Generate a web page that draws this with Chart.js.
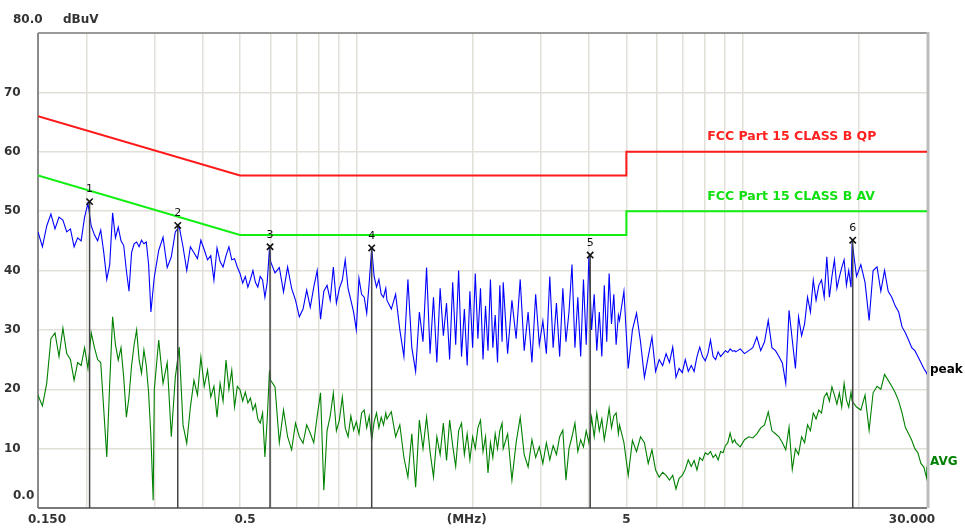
<!DOCTYPE html>
<html><head><meta charset="utf-8">
<script src="https://cdn.jsdelivr.net/npm/chart.js@4.4.1/dist/chart.umd.min.js"></script>
<style>html,body{margin:0;padding:0;background:#fff;}canvas{display:block;}</style>
</head><body>
<canvas id="c" width="965" height="529"></canvas>
<script>
// ---- data (MHz / dBuV) ----
const freqMHz = [
0.150,0.154,0.158,0.162,0.166,0.170,0.174,0.178,0.182,0.186,0.190,0.194,0.198,0.202,0.206,0.210,0.214,0.218,0.222,0.226,0.230,0.234,0.238,0.242,0.246,0.250,0.254,0.258,0.262,0.266,0.270,0.274,0.278,0.282,0.286,0.290,0.294,0.298,
0.300,0.308,0.316,0.324,0.332,0.340,0.348,0.356,0.364,0.372,0.380,0.388,0.396,0.404,0.412,0.420,0.428,0.436,0.444,0.452,0.460,0.468,0.476,0.484,0.492,0.500,0.508,0.516,0.524,0.532,0.540,0.548,0.556,0.564,0.572,0.580,0.588,0.596,
0.600,0.616,0.632,0.648,0.664,0.680,0.696,0.712,0.728,0.744,0.760,0.776,0.792,0.808,0.824,0.840,0.856,0.872,0.888,0.904,0.920,0.936,0.952,0.968,0.984,1.000,1.016,1.032,1.048,1.064,1.080,1.096,1.112,1.128,1.144,1.160,1.176,1.192,
1.200,1.232,1.264,1.296,1.328,1.360,1.392,1.424,1.456,1.488,1.520,1.552,1.584,1.616,1.648,1.680,1.712,1.744,1.776,1.808,1.840,1.872,1.904,1.936,1.968,2.000,2.032,2.064,2.096,2.128,2.160,2.192,2.224,2.256,2.288,2.320,2.352,2.384,
2.400,2.464,2.528,2.592,2.656,2.720,2.784,2.848,2.912,2.976,3.040,3.104,3.168,3.232,3.296,3.360,3.424,3.488,3.552,3.616,3.680,3.744,3.808,3.872,3.936,4.000,4.064,4.128,4.192,4.256,4.320,4.384,4.448,4.512,4.576,4.640,4.704,4.768,
4.800,4.928,5.056,5.184,5.312,5.440,5.568,5.696,5.824,5.952,6.080,6.208,6.336,6.464,6.592,6.720,6.848,6.976,7.104,7.232,7.360,7.488,7.616,7.744,7.872,8.000,8.128,8.256,8.384,8.512,8.640,8.768,8.896,9.024,9.152,9.280,9.408,9.536,
9.600,9.856,10.112,10.368,10.624,10.880,11.136,11.392,11.648,11.904,12.160,12.416,12.672,12.928,13.184,13.440,13.696,13.952,14.208,14.464,14.720,14.976,15.232,15.488,15.744,16.000,16.256,16.512,16.768,17.024,17.280,17.536,17.792,18.048,18.304,18.560,18.816,19.072,
19.200,19.712,20.224,20.736,21.248,21.760,22.272,22.784,23.296,23.808,24.320,24.832,25.344,25.856,26.368,26.880,27.392,27.904,28.416,28.928,29.440,29.952,30.000];

const peakDbuv = [
46.5,44.0,47.5,49.5,47.0,49.0,48.5,46.5,47.0,44.0,45.5,45.0,49.0,51.3,47.5,46.0,45.0,46.8,43.0,38.5,41.0,49.7,45.5,47.3,45.0,44.2,40.0,36.5,43.0,44.5,44.8,44.0,45.1,44.5,44.8,41.0,33.0,37.0,
38.9,43.4,45.6,40.5,42.3,46.5,47.4,44.0,40.0,44.0,43.0,42.0,45.1,43.5,41.8,42.5,38.4,43.8,41.5,40.6,42.5,44.0,41.8,42.0,40.6,39.5,37.9,39.0,37.2,38.5,40.0,38.0,37.2,39.0,38.4,35.5,38.0,43.8,
41.5,39.6,40.5,36.4,40.6,37.0,35.0,32.2,33.5,36.7,33.8,37.2,40.0,31.8,36.5,37.5,35.0,40.6,34.5,37.0,38.4,41.8,37.0,35.0,33.0,30.0,38.7,36.0,35.5,32.8,38.0,43.8,39.0,37.2,38.5,36.0,35.5,37.0,
35.0,33.5,36.0,30.0,25.5,38.5,27.0,23.0,33.0,28.0,40.5,26.0,35.5,24.5,37.0,29.0,34.5,25.0,38.0,27.5,40.0,25.5,33.5,24.0,36.5,27.0,39.5,28.5,37.0,25.0,34.0,26.5,38.5,27.0,32.5,24.5,37.5,28.0,
38.0,26.0,35.0,28.5,38.5,26.5,33.0,24.5,36.0,27.5,31.5,26.0,39.0,27.0,34.5,25.5,37.0,28.0,33.0,41.0,27.0,35.5,25.5,38.5,27.5,42.5,30.0,36.0,26.5,33.0,25.5,37.5,28.0,39.5,31.0,36.0,27.5,32.5,
31.6,36.5,23.5,30.0,32.8,28.0,22.0,25.5,28.8,23.0,25.0,24.0,26.0,24.5,27.1,22.0,23.5,22.8,25.0,23.0,24.0,23.0,25.5,27.1,25.5,24.8,26.0,28.3,25.5,25.0,26.3,25.5,26.0,26.5,26.2,26.8,26.4,26.5,
26.3,26.8,26.0,26.5,27.0,28.8,26.5,28.0,31.6,27.0,26.5,25.5,24.4,21.0,33.3,28.3,23.5,32.2,29.0,31.0,35.5,33.0,38.4,35.0,37.5,38.4,35.5,42.3,35.5,39.0,41.8,37.0,38.9,40.5,41.8,37.5,40.0,37.2,
44.8,39.0,41.0,38.0,31.6,40.0,40.6,36.5,40.0,36.5,35.5,34.0,33.0,30.5,29.5,28.3,27.0,26.5,25.5,24.5,23.5,22.7,22.5];

const avgDbuv = [
19.0,17.2,21.0,28.5,29.5,25.5,30.3,26.0,25.0,21.5,24.5,24.0,27.0,23.5,29.5,27.0,25.0,24.5,16.5,8.6,21.0,32.2,27.5,24.9,27.0,22.0,15.3,18.7,24.0,27.5,30.0,25.0,22.7,26.6,24.0,19.4,12.0,1.3,
20.0,28.3,21.0,24.5,12.0,22.0,27.1,14.0,10.9,17.0,21.5,19.0,25.4,20.5,23.2,18.7,20.5,15.3,21.0,18.0,24.9,20.0,23.2,17.0,20.5,19.9,18.0,19.5,17.7,18.5,16.5,17.5,15.0,14.3,16.0,8.6,15.0,23.2,
21.5,20.4,11.0,16.5,12.0,9.8,14.3,12.0,10.9,14.0,12.6,11.0,15.5,19.4,3.0,13.0,15.5,19.4,13.0,14.8,18.7,13.5,12.0,15.5,13.1,14.5,12.5,16.0,16.5,13.5,15.5,11.4,14.5,16.0,13.5,15.3,14.0,16.0,
15.0,16.2,12.0,14.0,8.5,5.2,12.5,3.5,14.8,10.0,15.3,9.5,5.2,12.0,9.0,14.3,8.0,14.8,10.5,7.0,13.0,14.3,9.0,12.5,8.1,12.0,10.0,13.5,14.8,9.5,12.0,5.9,11.0,8.5,12.5,10.0,13.0,14.3,
10.0,12.5,4.7,11.0,15.3,9.0,6.9,11.5,8.5,10.3,7.5,11.0,8.1,10.5,9.0,12.0,13.1,4.7,10.0,12.0,14.3,9.5,11.5,10.3,13.0,11.0,15.3,12.0,16.0,13.0,15.0,11.5,14.0,16.8,13.5,15.5,16.0,12.5,
14.0,11.0,5.5,11.4,9.5,12.0,11.0,7.5,9.8,6.4,5.2,6.0,5.5,4.7,5.5,3.2,5.0,5.5,6.5,8.1,7.0,8.0,6.4,8.5,8.0,9.3,9.0,9.5,8.5,9.0,8.1,9.5,9.3,10.5,11.0,12.6,11.0,11.5,
11.0,10.3,11.5,12.0,11.8,12.5,13.5,14.0,16.2,13.0,12.5,12.0,11.0,9.8,13.6,6.5,10.0,9.0,12.0,11.0,14.0,13.0,16.0,15.0,16.5,16.0,18.7,19.4,18.0,20.4,19.0,17.5,19.4,17.0,21.0,18.2,17.0,19.5,
18.0,17.0,16.5,19.0,13.1,19.4,20.5,20.0,22.5,21.5,20.5,19.4,18.0,16.0,13.6,12.5,11.4,10.0,9.3,7.5,6.9,5.0,7.0];

const qpLimitFreq = [0.15, 0.5, 5, 5, 30];
const qpLimit     = [66, 56, 56, 60, 60];
const avLimitFreq = [0.15, 0.5, 5, 5, 30];
const avLimit     = [56, 46, 46, 50, 50];

const markerNo    = ['1','2','3','4','5','6'];
const markerFreq  = [0.204, 0.345, 0.598, 1.096, 4.03, 19.27];
const markerLevel = [51.6, 47.6, 44.0, 43.8, 42.6, 45.1];

const xGridValues = [0.2,0.3,0.4,0.5,0.6,0.7,0.8,0.9,1,2,3,4,5,6,7,8,9,10,20];
const yTickValues = [70,60,50,40,30,20,10];
const yTickLabels = ['70','60','50','40','30','20','10'];
const xTickValues = [0.15, 0.5, 1.93, 5, 30];
const xTickLabels = ['0.150','0.5','(MHz)','5','30.000'];

// ---- build ----
const pts = (xs, ys) => xs.map((x, i) => ({x: x, y: ys[i]}));
const markerLines = [];
markerFreq.forEach((f, i) => { markerLines.push({x: f, y: 0}, {x: f, y: markerLevel[i]}, {x: f, y: null}); });

const gridColor = '#e2dfd8';
const labelFont = 'bold 12px "DejaVu Sans"';

const framePlugin = {
  id: 'frame',
  beforeDatasetsDraw(chart) {
    const {ctx, chartArea: a} = chart;
    ctx.save();
    ctx.lineWidth = 2;
    ctx.strokeStyle = '#9a9a9a';
    ctx.beginPath(); ctx.moveTo(a.left, a.top); ctx.lineTo(a.right, a.top); ctx.stroke();
    ctx.strokeStyle = '#8a8a8a';
    ctx.beginPath(); ctx.moveTo(a.left, a.top); ctx.lineTo(a.left, a.bottom); ctx.stroke();
    ctx.strokeStyle = '#7a7a7a';
    ctx.beginPath(); ctx.moveTo(a.left, a.bottom); ctx.lineTo(a.right, a.bottom); ctx.stroke();
    ctx.lineWidth = 3;
    ctx.strokeStyle = '#bdbdbd';
    ctx.beginPath(); ctx.moveTo(a.right + 1, a.top - 1); ctx.lineTo(a.right + 1, a.bottom); ctx.stroke();
    ctx.restore();
  }
};

const textPlugin = {
  id: 'texts',
  afterDraw(chart) {
    const {ctx} = chart;
    const xs = chart.scales.x, ys = chart.scales.y;
    ctx.save();
    ctx.font = labelFont;
    ctx.fillStyle = '#333';
    ctx.textBaseline = 'middle';
    ctx.textAlign = 'left';
    yTickValues.forEach((v, i) => ctx.fillText(yTickLabels[i], 4, ys.getPixelForValue(v)));
    ctx.fillText('80.0', 13, ys.getPixelForValue(80) - 13);
    ctx.fillText('dBuV', 63, ys.getPixelForValue(80) - 13);
    ctx.fillText('0.0', 13, ys.getPixelForValue(0) - 12);
    const xy = ys.getPixelForValue(0) + 12;
    const xOff = [9, 5, 0, 0, -15];
    xTickValues.forEach((v, i) => {
      ctx.textAlign = 'center';
      ctx.fillText(xTickLabels[i], xs.getPixelForValue(v) + xOff[i], xy);
    });
    // trace labels
    ctx.textAlign = 'left';
    ctx.fillStyle = '#000';
    ctx.fillText('peak', xs.getPixelForValue(30) + 3, ys.getPixelForValue(23.2));
    ctx.fillStyle = '#008000';
    ctx.fillText('AVG', xs.getPixelForValue(30) + 3, ys.getPixelForValue(7.7));
    // limit labels
    ctx.font = 'bold 12.5px "DejaVu Sans"';
    ctx.fillStyle = '#ff2020';
    ctx.fillText('FCC Part 15 CLASS B QP', xs.getPixelForValue(8.1), ys.getPixelForValue(62.6));
    ctx.fillStyle = '#10e010';
    ctx.fillText('FCC Part 15 CLASS B AV', xs.getPixelForValue(8.1), ys.getPixelForValue(52.5));
    // marker numbers
    ctx.font = '11px "DejaVu Sans"';
    ctx.fillStyle = '#111';
    ctx.textAlign = 'center';
    markerFreq.forEach((f, i) => ctx.fillText(markerNo[i], xs.getPixelForValue(f), ys.getPixelForValue(markerLevel[i]) - 12));
    ctx.restore();
  }
};

new Chart(document.getElementById('c'), {
  type: 'line',
  data: {
    datasets: [
      {label: 'markers', data: pts(markerFreq, markerLevel), showLine: false, pointStyle: 'crossRot',
       pointRadius: 4.5, pointBorderWidth: 1.6, pointBorderColor: '#111', pointBackgroundColor: '#111', order: 0},
      {label: 'markerLines', data: markerLines, borderColor: '#444', borderWidth: 1.5, pointRadius: 0, spanGaps: false, order: 1},
      {label: 'QP', data: pts(qpLimitFreq, qpLimit), borderColor: '#ff1a1a', borderWidth: 2, pointRadius: 0, order: 2},
      {label: 'AV', data: pts(avLimitFreq, avLimit), borderColor: '#11ee11', borderWidth: 2, pointRadius: 0, order: 3},
      {label: 'peak', data: pts(freqMHz, peakDbuv), borderColor: '#0000ff', borderWidth: 1.1, pointRadius: 0, order: 4},
      {label: 'AVG', data: pts(freqMHz, avgDbuv), borderColor: '#008000', borderWidth: 1.1, pointRadius: 0, order: 5}
    ]
  },
  options: {
    responsive: false,
    animation: false,
    devicePixelRatio: 1,
    layout: {padding: {left: 38, top: 33, right: 38, bottom: 21}},
    plugins: {legend: {display: false}, tooltip: {enabled: false}},
    elements: {line: {tension: 0}},
    scales: {
      x: {type: 'logarithmic', min: 0.15, max: 30,
          afterBuildTicks: ax => { ax.ticks = xGridValues.map(v => ({value: v})); },
          ticks: {display: false},
          grid: {color: gridColor, lineWidth: 1.5, drawTicks: false},
          border: {display: false}},
      y: {type: 'linear', min: 0, max: 80,
          ticks: {display: false, stepSize: 10},
          grid: {color: gridColor, lineWidth: 1.5, drawTicks: false},
          border: {display: false}}
    }
  },
  plugins: [framePlugin, textPlugin]
});
</script>
</body></html>
